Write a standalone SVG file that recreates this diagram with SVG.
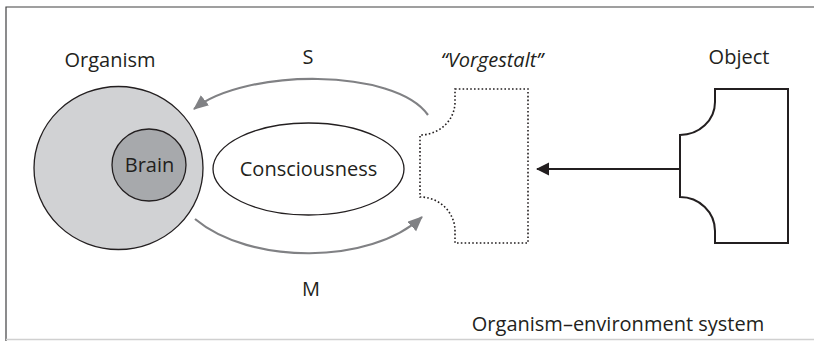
<svg xmlns="http://www.w3.org/2000/svg" width="814" height="341" viewBox="0 0 814 341">
<style>
text{font-family:"Open Sans","Noto Sans","Liberation Sans",sans-serif;font-size:20px;fill:#231f20;}
.garc{fill:none;stroke:#808184;stroke-width:2.2;}
</style>
<defs>
<path id="shape" d="M35,0 H108 V154 H35 V142 A35,34 0 0 0 0,108 V46 A35,33 0 0 0 35,13 Z"/>
<marker id="gh" markerUnits="userSpaceOnUse" markerWidth="16" markerHeight="14" refX="14" refY="6.5" orient="auto">
<path d="M0,0 L15,6.5 L0,13 z" fill="#808184"/>
</marker>
<marker id="bh" markerUnits="userSpaceOnUse" markerWidth="14" markerHeight="14" refX="12" refY="6.5" orient="auto">
<path d="M0,0 L13,6.5 L0,13 z" fill="#231f20"/>
</marker>
</defs>
<rect width="814" height="341" fill="#ffffff"/>
<g id="frame">
<path d="M6,341 V7 H814" fill="none" stroke="#404041" stroke-width="1.2"/>
<line x1="6" y1="339.5" x2="814" y2="339.5" stroke="#d0d0d0" stroke-width="1.5"/>
</g>
<g id="organism">
<ellipse cx="118.5" cy="168" rx="84.5" ry="81.5" fill="#d1d2d4" stroke="#231f20" stroke-width="1.3"/>
<text x="110" y="67" text-anchor="middle">Organism</text>
</g>
<g id="brain">
<ellipse cx="149" cy="165" rx="37" ry="36" fill="#a7a9ac" stroke="#231f20" stroke-width="1.3"/>
<text x="149.5" y="172" text-anchor="middle">Brain</text>
</g>
<g id="consciousness">
<ellipse cx="308.5" cy="169" rx="95.5" ry="46" fill="#ffffff" stroke="#231f20" stroke-width="1.3"/>
<text x="308.5" y="176" text-anchor="middle">Consciousness</text>
</g>
<g id="vorgestalt">
<use href="#shape" transform="translate(420,89)" fill="none" stroke="#231f20" stroke-width="1.6" stroke-dasharray="1.6 2.2"/>
<text x="492" y="67" text-anchor="middle" font-style="italic">“Vorgestalt”</text>
</g>
<g id="object">
<use href="#shape" transform="translate(680,89)" fill="none" stroke="#231f20" stroke-width="2"/>
<text x="739" y="64" text-anchor="middle">Object</text>
</g>
<g id="connectors">
<path class="garc" d="M428,115 C395,68 245,68 194,109" marker-end="url(#gh)"/>
<path class="garc" d="M195,219 C250,265 370,265 422,217" marker-end="url(#gh)"/>
<line x1="680" y1="169" x2="537" y2="169" stroke="#231f20" stroke-width="2" marker-end="url(#bh)"/>
<text x="308" y="64" text-anchor="middle">S</text>
<text x="311" y="296" text-anchor="middle">M</text>
</g>
<text x="618" y="331" text-anchor="middle">Organism–environment system</text>
</svg>
